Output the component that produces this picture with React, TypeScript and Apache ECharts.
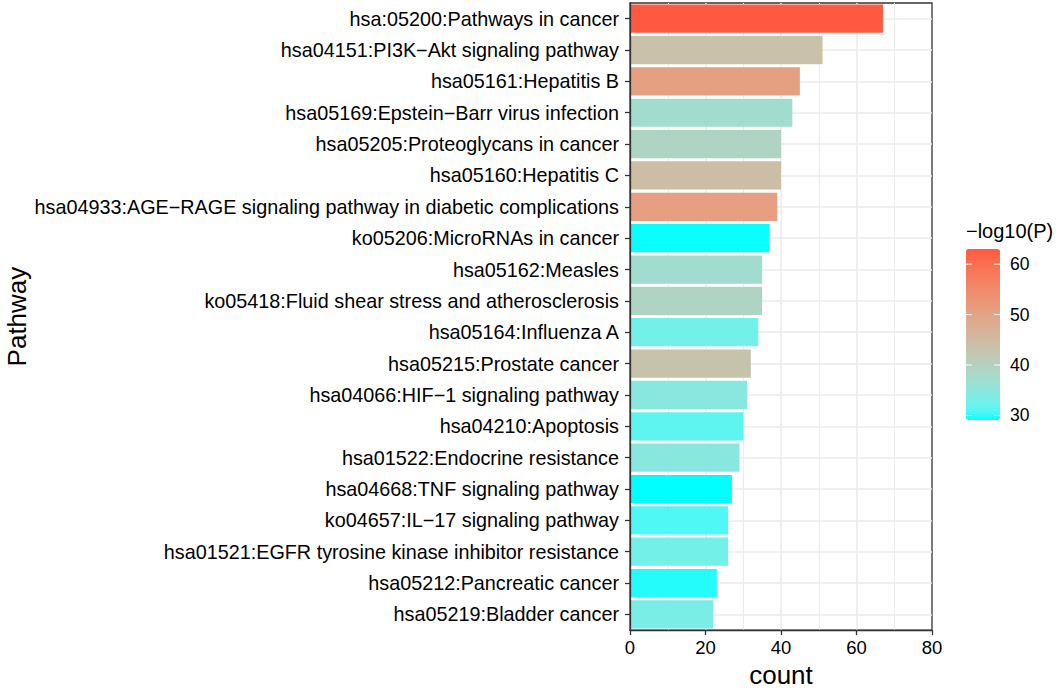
import React, { useEffect, useRef } from "react";
import * as echarts from "echarts";

const categories = [
  "hsa:05200:Pathways in cancer",
  "hsa04151:PI3K−Akt signaling pathway",
  "hsa05161:Hepatitis B",
  "hsa05169:Epstein−Barr virus infection",
  "hsa05205:Proteoglycans in cancer",
  "hsa05160:Hepatitis C",
  "hsa04933:AGE−RAGE signaling pathway in diabetic complications",
  "ko05206:MicroRNAs in cancer",
  "hsa05162:Measles",
  "ko05418:Fluid shear stress and atherosclerosis",
  "hsa05164:Influenza A",
  "hsa05215:Prostate cancer",
  "hsa04066:HIF−1 signaling pathway",
  "hsa04210:Apoptosis",
  "hsa01522:Endocrine resistance",
  "hsa04668:TNF signaling pathway",
  "ko04657:IL−17 signaling pathway",
  "hsa01521:EGFR tyrosine kinase inhibitor resistance",
  "hsa05212:Pancreatic cancer",
  "hsa05219:Bladder cancer",
];

const counts = [67, 51, 45, 43, 40, 40, 39, 37, 35, 35, 34, 32, 31, 30, 29, 27, 26, 26, 23, 22];

const negLog10P = [
  63.0, 43.7, 50.8, 37.2, 39.3, 44.4, 51.1, 29.3, 37.2, 39.3, 32.8, 43.3, 34.5, 31.5, 34.5, 29.1,
  30.8, 32.8, 29.8, 33.2,
];

const xTicks = [0, 20, 40, 60, 80];
const legendTicks = [30, 40, 50, 60];

const LOW_COLOR = "#00FFFF";
const HIGH_COLOR = "#FF5A40";

// ---- Lab interpolation (like ggplot2's gradient) ----
function srgbToLin(c: number) {
  const v = c / 255;
  return v <= 0.04045 ? v / 12.92 : Math.pow((v + 0.055) / 1.055, 2.4);
}
function linToSrgb(c: number) {
  const v = c <= 0.0031308 ? 12.92 * c : 1.055 * Math.pow(c, 1 / 2.4) - 0.055;
  return Math.round(Math.max(0, Math.min(1, v)) * 255);
}
function hexToLab(hex: string) {
  const n = parseInt(hex.slice(1), 16);
  const r = srgbToLin((n >> 16) & 255);
  const g = srgbToLin((n >> 8) & 255);
  const b = srgbToLin(n & 255);
  const X = (0.4124 * r + 0.3576 * g + 0.1805 * b) / 0.95047;
  const Y = 0.2126 * r + 0.7152 * g + 0.0722 * b;
  const Z = (0.0193 * r + 0.1192 * g + 0.9505 * b) / 1.08883;
  const f = (t: number) => (t > 0.008856 ? Math.cbrt(t) : 7.787 * t + 16 / 116);
  const fx = f(X), fy = f(Y), fz = f(Z);
  return [116 * fy - 16, 500 * (fx - fy), 200 * (fy - fz)];
}
function labToHex(L: number, a: number, bb: number) {
  const fy = (L + 16) / 116;
  const fx = fy + a / 500;
  const fz = fy - bb / 200;
  const finv = (t: number) => (t * t * t > 0.008856 ? t * t * t : (t - 16 / 116) / 7.787);
  const X = 0.95047 * finv(fx);
  const Y = finv(fy);
  const Z = 1.08883 * finv(fz);
  const r = 3.2406 * X - 1.5372 * Y - 0.4986 * Z;
  const g = -0.9689 * X + 1.8758 * Y + 0.0415 * Z;
  const b = 0.0557 * X - 0.204 * Y + 1.057 * Z;
  const h = (v: number) => linToSrgb(v).toString(16).padStart(2, "0");
  return "#" + h(r) + h(g) + h(b);
}
function labRamp(lo: string, hi: string, n: number) {
  const A = hexToLab(lo);
  const B = hexToLab(hi);
  const out: string[] = [];
  for (let i = 0; i < n; i++) {
    const t = i / (n - 1);
    out.push(labToHex(A[0] + (B[0] - A[0]) * t, A[1] + (B[1] - A[1]) * t, A[2] + (B[2] - A[2]) * t));
  }
  return out;
}

const FONT = "'Liberation Sans', Arial, Helvetica, sans-serif";

export default function App() {
  const ref = useRef<HTMLDivElement>(null);

  useEffect(() => {
    if (!ref.current) return;
    const chart = echarts.init(ref.current, null, { renderer: "svg" });

    const vmMin = Math.min(...negLog10P);
    const vmMax = Math.max(...negLog10P);
    const barLeft = 966;
    const barTop = 249;
    const barW = 34;
    const barH = 171;
    const yOf = (v: number) => barTop + barH - ((v - vmMin) / (vmMax - vmMin)) * barH;

    const data = categories.map((c, i) => [counts[i], c, negLog10P[i]]);

    const graphics: any[] = [
      {
        type: "text",
        left: barLeft,
        top: 221,
        style: { text: "−log10(P)", fontSize: 20, fontFamily: FONT, fill: "#000" },
      },
    ];
    legendTicks.forEach((v) => {
      const y = yOf(v);
      graphics.push({
        type: "text",
        x: 1010,
        y,
        style: { text: String(v), fontSize: 17.5, fontFamily: FONT, fill: "#000", verticalAlign: "middle" },
        z: 10,
      });
      graphics.push({
        type: "line",
        shape: { x1: barLeft, y1: y, x2: barLeft + 6, y2: y },
        style: { stroke: "#ffffff", lineWidth: 1 },
        z: 10,
      });
      graphics.push({
        type: "line",
        shape: { x1: barLeft + barW - 6, y1: y, x2: barLeft + barW, y2: y },
        style: { stroke: "#ffffff", lineWidth: 1 },
        z: 10,
      });
    });

    const option: any = {
      animation: false,
      backgroundColor: "#ffffff",
      textStyle: { fontFamily: FONT },
      grid: {
        left: 630,
        right: 131,
        top: 3,
        bottom: 58.5,
        show: true,
        borderColor: "#333333",
        borderWidth: 1.3,
        backgroundColor: "transparent",
      },
      xAxis: {
        type: "value",
        min: 0,
        max: 80,
        interval: 20,
        axisLine: { show: true, lineStyle: { color: "#333333", width: 1.3 } },
        axisTick: { show: true, length: 5, lineStyle: { color: "#333333", width: 1.3 } },
        axisLabel: {
          fontSize: 18.5,
          color: "#000",
          fontFamily: FONT,
          margin: 8,
          formatter: (v: number) => (xTicks.includes(v) ? String(v) : ""),
        },
        splitLine: { show: true, showMinLine: false, showMaxLine: false, lineStyle: { color: "#EBEBEB", width: 1.6 } },
        minorTick: { show: false, splitNumber: 2 },
        minorSplitLine: { show: true, lineStyle: { color: "#EBEBEB", width: 1 } },
        name: "count",
        nameLocation: "middle",
        nameGap: 28,
        nameTextStyle: { fontSize: 26, color: "#000", fontFamily: FONT },
      },
      yAxis: {
        type: "category",
        data: categories,
        inverse: true,
        z: 3,
        axisLine: { show: true, lineStyle: { color: "#333333", width: 1.3 } },
        axisTick: { show: true, alignWithLabel: true, length: 5, lineStyle: { color: "#333333", width: 1.3 } },
        axisLabel: { fontSize: 19.8, color: "#000", fontFamily: FONT, margin: 11 },
        splitLine: { show: false },
        name: "Pathway",
        nameLocation: "middle",
        nameGap: 600,
        nameRotate: 90,
        nameTextStyle: { fontSize: 26, color: "#000", fontFamily: FONT },
      },
      visualMap: {
        type: "continuous",
        min: vmMin,
        max: vmMax,
        dimension: 2,
        seriesIndex: 0,
        calculable: false,
        inRange: { color: labRamp(LOW_COLOR, HIGH_COLOR, 24) },
        left: barLeft,
        top: barTop,
        itemWidth: barW,
        itemHeight: barH,
        padding: 0,
        hoverLink: false,
      },
      graphic: graphics,
      series: [
        {
          type: "bar",
          data,
          encode: { x: 0, y: 1 },
          barWidth: "90%",
          itemStyle: { borderWidth: 0 },
          markLine: {
            z: 1,
            silent: true,
            symbol: "none",
            label: { show: false },
            lineStyle: { color: "#EBEBEB", width: 1.6, type: "solid" },
            data: categories.map((c) => ({ yAxis: c })),
          },
        },
      ],
    };

    chart.setOption(option);
    return () => chart.dispose();
  }, []);

  return (
    <div
      ref={ref}
      style={{ position: "absolute", left: 0, top: 0, width: "1063px", height: "693px" }}
    />
  );
}
